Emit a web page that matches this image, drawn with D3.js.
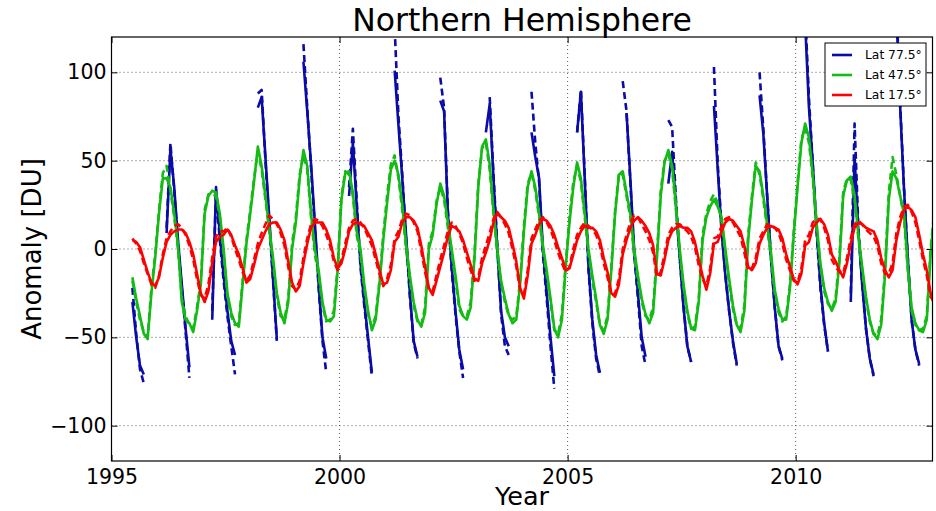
<!DOCTYPE html>
<html><head><meta charset="utf-8">
<script src="https://cdn.jsdelivr.net/npm/d3@7"></script>
<style>
body{margin:0;background:#fff;}
text{font-family:"DejaVu Sans",sans-serif;fill:#000;}
</style>
</head><body>
<svg id="chart" width="936" height="511"></svg>
<script>
// ---- data (monthly anomalies, first value = June 1995) ----
const startYear = 1995, startMonth = 6;
const xTicks = [1995, 2000, 2005, 2010];
const yTicks = [-100, -50, 0, 50, 100];
const seriesNames = ["Lat 77.5\u00b0", "Lat 47.5\u00b0", "Lat 17.5\u00b0"];
const n = null;

const lat77 = [
  -30,-50,-66,-71,n,n,n,
  n,n,9,57,35,5,-20,-45,-67,n,n,n,
  n,n,-40,35,8,-15,-35,-52,-60,n,n,n,
  n,n,80,86,52,18,-17,-51,n,n,n,n,
  n,n,106,78,48,15,-20,-50,-62,n,n,n,
  n,n,30,60,25,-8,-30,-50,-70,n,n,n,
  n,n,101,70,40,8,-25,-52,-61,n,n,n,
  n,n,84,78,20,-10,-35,-57,-68,n,n,n,
  n,n,66,82,40,0,-35,-50,-55,n,n,n,
  n,n,66,52,40,0,-25,-50,-72,n,n,n,
  n,n,66,89,40,-10,-40,-60,-70,n,n,n,
  n,n,n,77,40,0,-25,-50,-61,n,n,n,
  n,n,37,55,25,-5,-33,-55,-64,n,n,n,
  n,n,81,45,10,-15,-35,-52,-65,n,n,n,
  n,n,87,65,30,-5,-33,-55,-62,n,n,n,
  n,n,128,80,48,12,-20,-42,-58,n,n,n,
  n,n,-30,52,10,-20,-45,-62,-71,n,n,n,
  n,n,135,80,34,-5,-40,-57,-65,n,n,n,
  n
];
const lat77dashed = [
  -22,-48,-68,-76,n,n,n,
  n,n,12,60,33,3,-22,-47,-73,n,n,n,
  n,n,-35,32,5,-18,-38,-55,-71,n,n,n,
  n,n,88,90,50,15,-18,-52,n,n,n,n,
  n,n,116,80,46,12,-22,-52,-70,n,n,n,
  n,n,35,68,28,-10,-32,-52,-72,n,n,n,
  n,n,125,75,42,6,-27,-53,-62,n,n,n,
  n,n,97,80,22,-12,-37,-58,-73,n,n,n,
  n,n,n,86,42,2,-37,-55,-60,n,n,n,
  n,n,89,60,38,-3,-28,-55,-79,n,n,n,
  n,n,66,90,42,-12,-42,-62,-72,n,n,n,
  n,n,95,78,38,-3,-28,-55,-66,n,n,n,
  n,n,73,69,28,-5,-33,-55,-64,n,n,n,
  n,n,103,48,12,-15,-35,-53,-66,n,n,n,
  n,n,100,68,30,-5,-33,-55,-63,n,n,n,
  n,n,135,85,48,10,-22,-43,-58,n,n,n,
  n,n,-25,71,12,-20,-45,-62,-72,n,n,n,
  n,n,140,82,35,-5,-40,-57,-66,n,n,n,
  n
];
const lat47 = [
  -16,-28,-38,-48,-51,-25,-5,
  20,40,40,35,20,2,-30,-40,-42,-47,-35,-20,
  20,30,33,32,20,0,-25,-36,-42,-44,-20,3,
  20,38,58,47,30,12,-5,-25,-36,-42,-30,0,
  15,40,56,47,20,0,-12,-30,-40,-41,-38,-12,
  28,43,44,32,10,0,-20,-35,-46,-40,-20,5,
  26,45,50,42,25,3,-15,-30,-40,-44,-36,0,
  8,25,37,30,15,0,-15,-32,-38,-40,-33,-5,
  35,58,62,48,22,0,-18,-28,-37,-42,-40,-20,
  10,35,44,35,20,2,-12,-28,-45,-50,-40,-10,
  15,35,49,40,20,0,-15,-28,-43,-48,-40,-12,
  20,42,44,32,20,0,-15,-28,-37,-42,-36,-5,
  30,49,56,47,25,0,-20,-35,-45,-46,-30,5,
  18,24,28,24,18,0,-17,-32,-43,-47,-35,5,
  28,47,44,30,14,-2,-23,-34,-40,-40,-22,8,
  35,60,71,63,42,15,-8,-22,-30,-35,-30,-8,
  30,39,41,30,8,-10,-27,-40,-48,-51,-43,-15,
  28,44,40,30,20,-10,-33,-42,-46,-47,-40,-3,
  20
];
const lat47dashed = [
  -18,-30,-40,-47,-50,-22,-3,
  22,43,47,33,18,0,-28,-38,-43,-45,-33,-18,
  22,31,31,30,18,-3,-27,-38,-43,-42,-18,5,
  22,40,55,45,28,10,-8,-27,-38,-40,-28,3,
  18,42,53,45,18,-3,-15,-32,-41,-40,-35,-10,
  30,44,42,30,8,-3,-22,-37,-44,-38,-18,8,
  30,48,53,40,22,0,-18,-32,-41,-43,-33,3,
  10,27,35,28,12,-3,-18,-34,-38,-38,-30,-3,
  37,57,60,45,20,-3,-20,-30,-38,-40,-38,-18,
  13,37,43,33,18,0,-15,-30,-46,-48,-37,-8,
  18,38,47,38,18,-3,-18,-30,-43,-46,-38,-10,
  22,43,42,30,18,-3,-18,-30,-38,-40,-33,-3,
  33,50,54,45,22,-3,-22,-37,-45,-44,-28,8,
  20,27,31,26,16,-3,-20,-34,-43,-45,-32,8,
  30,49,42,28,12,-5,-25,-36,-41,-38,-20,10,
  38,62,69,60,40,12,-10,-24,-31,-34,-28,-5,
  32,40,39,28,6,-12,-29,-41,-48,-49,-40,-12,
  32,52,42,30,18,-12,-35,-43,-46,-45,-38,0,
  22
];
const lat17 = [
  5,4,1,-6,-13,-19,-21,
  -16,-5,4,8,10,11,11,9,4,-3,-14,-25,
  -30,-24,-8,4,7,8,11,8,2,-3,-11,-19,
  -17,-9,0,5,10,14,15,15,11,5,-7,-19,
  -24,-21,-8,3,12,15,15,15,11,5,-5,-11,
  -8,0,10,14,15,14,13,9,5,-3,-12,-20,
  -19,-12,4,7,15,18,18,16,12,2,-10,-22,
  -26,-18,-10,-2,7,13,12,10,5,-2,-9,-17,
  -18,-8,-2,5,15,20,18,16,12,3,-7,-22,
  -28,-15,3,8,14,17,16,13,8,1,-5,-12,
  -11,-3,5,10,13,12,12,10,5,-5,-13,-25,
  -27,-20,-3,5,12,16,18,16,13,9,2,-14,
  -15,-6,5,10,12,13,12,12,10,4,-6,-15,
  -23,-14,3,4,10,15,17,16,13,10,2,-10,
  -12,-8,3,8,12,13,12,11,6,-3,-10,-17,
  -20,-14,2,4,12,15,17,14,8,-3,-7,-12,
  -16,-8,3,12,15,14,12,11,10,5,-5,-12,
  -16,-12,5,15,22,24,22,18,8,-3,-12,-25,
  -32
];
const lat17dashed = [
  6,3,-1,-8,-14,-20,-22,
  -15,-3,6,10,13,14,12,8,2,-6,-17,-26,
  -28,-20,-5,7,10,10,12,7,0,-6,-13,-18,
  -15,-6,3,9,14,19,17,14,9,2,-10,-21,
  -23,-18,-5,6,14,17,16,13,8,2,-7,-12,
  -6,3,12,16,17,15,12,7,2,-6,-14,-21,
  -17,-9,6,10,17,20,19,15,10,-1,-13,-23,
  -24,-15,-6,2,10,15,13,9,3,-5,-12,-18,
  -16,-5,2,9,17,21,18,14,9,0,-10,-23,
  -26,-12,6,11,16,18,15,11,5,-2,-8,-13,
  -10,0,8,12,15,13,11,8,2,-8,-16,-26,
  -25,-17,0,8,15,19,18,14,10,5,-2,-16,
  -13,-3,8,12,14,14,12,10,7,1,-9,-17,
  -21,-11,6,7,13,17,18,15,11,7,-2,-12,
  -11,-5,6,10,14,14,12,9,3,-6,-12,-18,
  -19,-11,5,8,15,17,17,12,5,-6,-10,-13,
  -14,-5,6,14,16,14,11,9,7,2,-8,-14,
  -14,-8,9,18,24,25,21,15,5,-6,-15,-27,
  -30
];
const colors = ["#0b0ba8", "#14bb14", "#ff0000"];

// ---- layout ----
const svg = d3.select("#chart");
const L = 111.5, R = 932.5, T = 37, B = 461;
const x = d3.scaleLinear().domain([1995, 2013]).range([L, R]);
const y = d3.scaleLinear().domain([-120, 120]).range([B, T]);
const timeOf = i => startYear + (startMonth - 1 + i + 0.5) / 12;

svg.append("defs").append("clipPath").attr("id", "clip")
  .append("rect").attr("x", L).attr("y", T).attr("width", R - L).attr("height", B - T);

// grid
const grid = svg.append("g").attr("stroke", "#333").attr("stroke-width", 0.8)
  .attr("stroke-dasharray", "1,3");
grid.selectAll(".gx").data(xTicks.filter(d => d > 1995)).join("line")
  .attr("x1", d => x(d)).attr("x2", d => x(d)).attr("y1", T).attr("y2", B);
grid.selectAll(".gy").data(yTicks).join("line")
  .attr("x1", L).attr("x2", R).attr("y1", d => y(d)).attr("y2", d => y(d));

// lines
const line = d3.line().defined(d => d.v !== null).x(d => x(d.t)).y(d => y(d.v));
const toPts = arr => arr.map((v, i) => ({ t: timeOf(i), v }));
const plot = svg.append("g").attr("clip-path", "url(#clip)")
  .attr("fill", "none").attr("stroke-linejoin", "round").attr("stroke-linecap", "butt");
const series = [
  [lat77, lat77dashed, colors[0]],
  [lat47, lat47dashed, colors[1]],
  [lat17, lat17dashed, colors[2]]
];
series.forEach(([solid, dashed, c]) => {
  plot.append("path").attr("d", line(toPts(solid))).attr("stroke", c).attr("stroke-width", 2.6);
  plot.append("path").attr("d", line(toPts(dashed))).attr("stroke", c).attr("stroke-width", 2.6)
    .attr("stroke-dasharray", "7,4");
});

// axes
const fmt = d3.format("d");
const styleAxis = g => {
  g.select(".domain").remove();
  g.selectAll("line").attr("stroke", "#000").attr("stroke-width", 1);
  g.selectAll("text").attr("font-family", "DejaVu Sans").attr("font-size", 20.5).attr("fill", "#000");
};
svg.append("g").attr("transform", `translate(0,${B})`)
  .call(d3.axisBottom(x).tickValues(xTicks).tickFormat(fmt).tickSize(-6).tickPadding(8))
  .call(styleAxis);
svg.append("g").attr("transform", `translate(0,${T})`)
  .call(d3.axisTop(x).tickValues(xTicks).tickFormat("").tickSize(-6))
  .call(styleAxis);
svg.append("g").attr("transform", `translate(${L},0)`)
  .call(d3.axisLeft(y).tickValues(yTicks).tickFormat(d => d < 0 ? "\u2212" + Math.abs(d) : d).tickSize(-6).tickPadding(5))
  .call(styleAxis);
svg.append("g").attr("transform", `translate(${R},0)`)
  .call(d3.axisRight(y).tickValues(yTicks).tickFormat("").tickSize(-6))
  .call(styleAxis);

// frame
svg.append("rect").attr("x", L).attr("y", T).attr("width", R - L).attr("height", B - T)
  .attr("fill", "none").attr("stroke", "#000").attr("stroke-width", 1.2);

// titles
svg.append("text").attr("x", (L + R) / 2).attr("y", 31).attr("text-anchor", "middle")
  .attr("font-size", 31.5).text("Northern Hemisphere");
svg.append("text").attr("x", (L + R) / 2).attr("y", 505).attr("text-anchor", "middle")
  .attr("font-size", 25.5).text("Year");
svg.append("text").attr("transform", `translate(41,${(T + B) / 2}) rotate(-90)`)
  .attr("text-anchor", "middle").attr("font-size", 26).text("Anomaly [DU]");

// legend
const lg = svg.append("g").attr("transform", "translate(825,43)");
lg.append("rect").attr("width", 101).attr("height", 63).attr("fill", "#fff")
  .attr("stroke", "#000").attr("stroke-width", 1);
seriesNames.forEach((name, i) => {
  const yy = 12 + i * 20;
  lg.append("line").attr("x1", 7).attr("x2", 27).attr("y1", yy).attr("y2", yy)
    .attr("stroke", colors[i]).attr("stroke-width", 2.6);
  lg.append("text").attr("x", 40).attr("y", yy).attr("dy", "0.36em")
    .attr("font-size", 12.3).text(name);
});
</script>
</body></html>
